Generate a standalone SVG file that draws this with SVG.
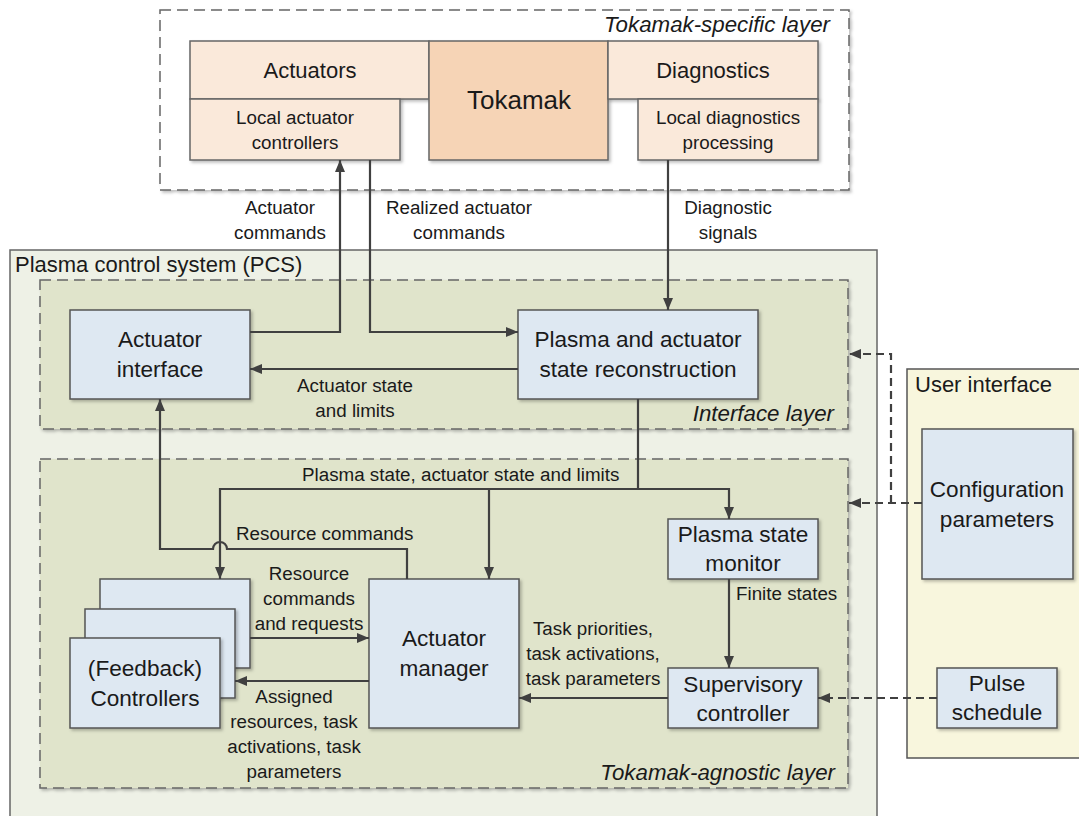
<svg xmlns="http://www.w3.org/2000/svg" width="1079" height="816" viewBox="0 0 1079 816">
<style>
text{font-family:"Liberation Sans",Arial,sans-serif;fill:#1a1a1a}
.c{text-anchor:middle}
.r{text-anchor:end}
.big{font-size:22.6px}
.mid{font-size:22px}
.sm{font-size:18.8px}
.it{font-style:italic;font-size:22.3px}
.box{fill:#dee8f2;stroke:#555;stroke-width:1.5}
.pe{fill:#fae9da;stroke:#666;stroke-width:1.5}
.layer{fill:#e0e4cb;stroke:#666;stroke-width:1.5;stroke-dasharray:11 6}
.ln{fill:none;stroke:#404040;stroke-width:2.2}
.dash{fill:none;stroke:#404040;stroke-width:2.2;stroke-dasharray:8 5}
</style>
<defs>
<filter id="sh" x="-10%" y="-10%" width="120%" height="120%">
<feDropShadow dx="2" dy="2" stdDeviation="1.5" flood-color="#000" flood-opacity="0.25"/>
</filter>
<marker id="ah" viewBox="0 0 12 10" refX="12" refY="5" markerWidth="12" markerHeight="10" markerUnits="userSpaceOnUse" orient="auto">
<path d="M0,0 L12,5 L0,10 Z" fill="#404040"/>
</marker>
</defs>

<g id="tokamak-layer">
<rect x="160" y="10" width="689" height="180" fill="#fff" stroke="#666" stroke-width="1.5" stroke-dasharray="11 6" filter="url(#sh)"/>
<text class="it r" x="830" y="32">Tokamak-specific layer</text>
</g>
<g id="actuators">
<rect class="pe" x="190" y="41" width="239" height="58" filter="url(#sh)"/>
<text class="mid c" x="310" y="78">Actuators</text>
</g>
<g id="local-actuator-controllers">
<rect class="pe" x="190" y="99" width="210" height="61" filter="url(#sh)"/>
<text class="sm c" x="295" y="124">Local actuator</text>
<text class="sm c" x="295" y="149">controllers</text>
</g>
<g id="tokamak">
<rect x="429" y="41" width="179" height="119" fill="#f6d4b6" stroke="#666" stroke-width="1.5" filter="url(#sh)"/>
<text class="c" x="519" y="109" font-size="26px">Tokamak</text>
</g>
<g id="diagnostics">
<rect class="pe" x="608" y="41" width="210" height="58" filter="url(#sh)"/>
<text class="mid c" x="713" y="78">Diagnostics</text>
</g>
<g id="local-diagnostics-processing">
<rect class="pe" x="638" y="99" width="180" height="61" filter="url(#sh)"/>
<text class="sm c" x="728" y="124">Local diagnostics</text>
<text class="sm c" x="728" y="149">processing</text>
</g>

<g id="pcs">
<rect x="10" y="250" width="867" height="590" fill="#eef1e6" stroke="#666" stroke-width="1.5"/>
<text class="mid" x="15" y="272">Plasma control system (PCS)</text>
</g>
<g id="interface-layer">
<rect class="layer" x="40" y="280" width="808" height="149" filter="url(#sh)"/>
<text class="it r" x="834" y="421">Interface layer</text>
</g>
<g id="agnostic-layer">
<rect class="layer" x="40" y="459" width="808" height="329" filter="url(#sh)"/>
<text class="it r" x="835" y="780">Tokamak-agnostic layer</text>
</g>
<g id="user-interface">
<rect x="907" y="369" width="180" height="389" fill="#f8f6dd" stroke="#555" stroke-width="1.5"/>
<text class="mid" x="915" y="392">User interface</text>
</g>

<g id="actuator-interface">
<rect class="box" x="70" y="310" width="180" height="89" filter="url(#sh)"/>
<text class="big c" x="160" y="347">Actuator</text>
<text class="big c" x="160" y="377">interface</text>
</g>
<g id="state-reconstruction">
<rect class="box" x="518" y="310" width="240" height="89" filter="url(#sh)"/>
<text class="big c" x="638" y="347">Plasma and actuator</text>
<text class="big c" x="638" y="377">state reconstruction</text>
</g>
<g id="plasma-state-monitor">
<rect class="box" x="668" y="519" width="150" height="60" filter="url(#sh)"/>
<text class="big c" x="743" y="542">Plasma state</text>
<text class="big c" x="743" y="571">monitor</text>
</g>
<g id="supervisory-controller">
<rect class="box" x="668" y="668" width="150" height="60" filter="url(#sh)"/>
<text class="big c" x="743" y="692">Supervisory</text>
<text class="big c" x="743" y="721">controller</text>
</g>
<g id="actuator-manager">
<rect class="box" x="369" y="579" width="150" height="149" filter="url(#sh)"/>
<text class="big c" x="444" y="646">Actuator</text>
<text class="big c" x="444" y="676">manager</text>
</g>
<g id="feedback-controllers">
<rect class="box" x="100" y="579" width="150" height="89" filter="url(#sh)"/>
<rect class="box" x="85" y="609" width="150" height="89" filter="url(#sh)"/>
<rect class="box" x="70" y="638" width="150" height="90" filter="url(#sh)"/>
<text class="big c" x="145" y="676">(Feedback)</text>
<text class="big c" x="145" y="706">Controllers</text>
</g>
<g id="configuration-parameters">
<rect class="box" x="922" y="429" width="151" height="150" filter="url(#sh)"/>
<text class="big c" x="997" y="497">Configuration</text>
<text class="big c" x="997" y="527">parameters</text>
</g>
<g id="pulse-schedule">
<rect class="box" x="937" y="668" width="120" height="60" filter="url(#sh)"/>
<text class="big c" x="997" y="691">Pulse</text>
<text class="big c" x="997" y="720">schedule</text>
</g>

<g id="connectors">
<path class="ln" d="M250,332 H340 V160" marker-end="url(#ah)"/>
<path class="ln" d="M370,160 V332 H518" marker-end="url(#ah)"/>
<path class="ln" d="M668,160 V310" marker-end="url(#ah)"/>
<path class="ln" d="M518,369 H250" marker-end="url(#ah)"/>
<path class="ln" d="M638,399 V489 H220 V579" marker-end="url(#ah)"/>
<path class="ln" d="M638,489 H729 V519" marker-end="url(#ah)"/>
<path class="ln" d="M489,489 V579" marker-end="url(#ah)"/>
<path class="ln" d="M407,579 V549 H227 A7,7 0 0 0 213,549 H160 V399" marker-end="url(#ah)"/>
<path class="ln" d="M250,638 H369" marker-end="url(#ah)"/>
<path class="ln" d="M369,681 H235" marker-end="url(#ah)"/>
<path class="ln" d="M729,579 V668" marker-end="url(#ah)"/>
<path class="ln" d="M668,698 H519" marker-end="url(#ah)"/>
<path class="dash" d="M937,698 H818" marker-end="url(#ah)"/>
<path class="dash" d="M922,503 H849" marker-end="url(#ah)"/>
<path class="dash" d="M891,503 V354 H849" marker-end="url(#ah)"/>
<text class="sm c" x="280" y="214">Actuator</text>
<text class="sm c" x="280" y="239">commands</text>
<text class="sm c" x="459" y="214">Realized actuator</text>
<text class="sm c" x="459" y="239">commands</text>
<text class="sm c" x="728" y="214">Diagnostic</text>
<text class="sm c" x="728" y="239">signals</text>
<text class="sm c" x="355" y="392">Actuator state</text>
<text class="sm c" x="355" y="417">and limits</text>
<text class="sm" x="302" y="481">Plasma state, actuator state and limits</text>
<text class="sm" x="236" y="540">Resource commands</text>
<text class="sm c" x="309" y="580">Resource</text>
<text class="sm c" x="309" y="605">commands</text>
<text class="sm c" x="309" y="630">and requests</text>
<text class="sm c" x="294" y="703">Assigned</text>
<text class="sm c" x="294" y="728">resources, task</text>
<text class="sm c" x="294" y="753">activations, task</text>
<text class="sm c" x="294" y="778">parameters</text>
<text class="sm" x="736" y="600">Finite states</text>
<text class="sm c" x="593" y="635">Task priorities,</text>
<text class="sm c" x="593" y="660">task activations,</text>
<text class="sm c" x="593" y="685">task parameters</text>
</g>
</svg>
